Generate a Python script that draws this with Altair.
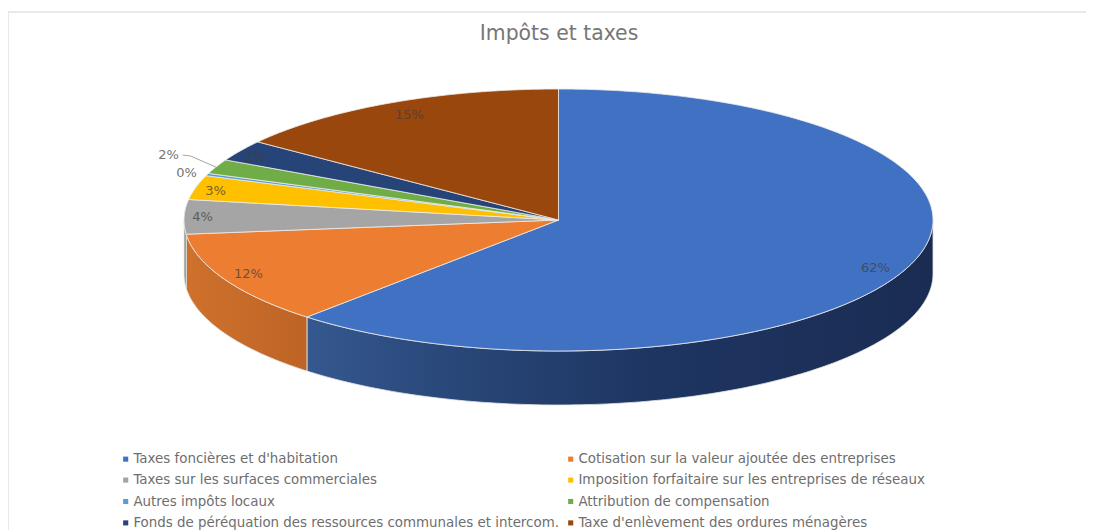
import math
import altair as alt

title_text = "Impôts et taxes"
categories = [
    "Taxes foncières et d'habitation",
    "Cotisation sur la valeur ajoutée des entreprises",
    "Taxes sur les surfaces commerciales",
    "Imposition forfaitaire sur les entreprises de réseaux",
    "Autres impôts locaux",
    "Attribution de compensation",
    "Fonds de péréquation des ressources communales et intercom.",
    "Taxe d'enlèvement des ordures ménagères",
]
shares = [62.0, 11.6, 4.25, 3.0, 0.3, 1.8, 2.6, 14.9]
labels = ["62%", "12%", "4%", "3%", "0%", "2%", "2%", "15%"]
colors = ["#4171c2", "#ed7d31", "#a5a5a5", "#ffc000", "#5b9bd5", "#70ad47", "#264478", "#9a470d"]

# layout (page pixels less the 8px margin)
W, H = 1078, 522
CX, CY = 550.5, 212
RX, RY = 374.5, 131
DEPTH = 54
label_dx = [317, -310, -356, -343, -372, -390, -303, -149]
label_dy = [48, 54, -3, -29, -47, -65, -63, -105]
side_fill = {
    0: [("#35588f", 0), ("#284677", 0.25), ("#1e3562", 0.55), ("#1a2c52", 1)],
    1: [("#cf712c", 0), ("#bd6426", 1)],
    2: [("#959595", 0), ("#8a8a8a", 1)],
}
proj = dict(type="identity", scale=1, translate=[CX, CY])

total = sum(shares)
angles = [0.0]
for s in shares:
    angles.append(angles[-1] + s / total * 360)


def rim(a, dy=0.0):
    r = math.radians(a)
    return [RX * math.sin(r), -RY * math.cos(r) + dy]


def sweep(a0, a1, dy=0.0):
    n = max(2, int(abs(a1 - a0)) + 2)
    return [rim(a0 + (a1 - a0) * i / (n - 1), dy) for i in range(n)]


def feature(coords, kind="Polygon", **props):
    return {"type": "Feature", "properties": props, "geometry": {"type": kind, "coordinates": coords}}


tops = []
for i, name in enumerate(categories):
    ring = [[0, 0]] + sweep(angles[i], angles[i + 1]) + [[0, 0]]
    tops.append(feature([ring], name=name))

layers = [
    alt.Chart(alt.Data(values=[{"a": 1}])).mark_rule(color="#e2e2e2", strokeWidth=1.5).encode(
        x=alt.value(0), x2=alt.value(W), y=alt.value(4)
    ),
    alt.Chart(alt.Data(values=[{"a": 1}])).mark_rule(color="#e2e2e2", strokeWidth=1.5).encode(
        x=alt.value(0), y=alt.value(4), y2=alt.value(H)
    ),
]

# visible outer walls of the slices lying in the lower half
for i, stops in side_fill.items():
    a0 = max(angles[i], 90)
    a1 = min(angles[i + 1], 270)
    ring = sweep(a0, a1) + sweep(a1, a0, DEPTH)
    ring.append(ring[0])
    grad = alt.LinearGradient(
        gradient="linear", x1=0, x2=1, y1=0, y2=0,
        stops=[alt.GradientStop(color=c, offset=o) for c, o in stops],
    )
    layers.append(
        alt.Chart(alt.Data(values=[feature([ring], name=categories[i])]))
        .mark_geoshape(fill=grad, stroke="#e4e4e4", strokeWidth=0.8)
        .project(**proj)
    )

layers.append(
    alt.Chart(alt.Data(values=tops))
    .mark_geoshape(stroke="#ececec", strokeWidth=0.8)
    .encode(
        color=alt.Color(
            "properties.name:N",
            scale=alt.Scale(domain=categories, range=colors),
            sort=None,
            legend=alt.Legend(
                title=None, orient="none", direction="horizontal", columns=2,
                legendX=111, legendY=444, symbolType="square", symbolSize=26,
                symbolStrokeWidth=0, labelFont="DejaVu Sans", labelFontSize=13.4,
                labelColor="#6e6e6e", labelLimit=600, labelOffset=1,
                columnPadding=5, rowPadding=6.4, padding=0, gridAlign="each",
            ),
        )
    )
    .project(**proj)
)

# leader line of the small "2%" label
leader = [rim(angles[5] + 3), [-368, -64], [-376, -65]]
layers.append(
    alt.Chart(alt.Data(values=[feature(leader, kind="LineString", name="leader")]))
    .mark_geoshape(filled=False, stroke="#a6a6a6", strokeWidth=1)
    .project(**proj)
)

label_rows = [
    {"text": t, "lon": x, "lat": y}
    for t, x, y in zip(labels, label_dx, label_dy)
]
layers.append(
    alt.Chart(alt.Data(values=label_rows))
    .mark_text(font="DejaVu Sans", fontSize=13, color="#404040", opacity=0.72)
    .encode(longitude="lon:Q", latitude="lat:Q", text="text:N")
    .project(**proj)
)

chart = (
    alt.layer(*layers)
    .properties(
        width=W,
        height=H,
        padding=0,
        autosize="none",
        title=alt.TitleParams(
            title_text, font="DejaVu Sans", fontSize=20.4, fontWeight="normal",
            color="#767676", anchor="middle", dx=12, dy=40,
        ),
    )
    .configure_view(stroke=None)
)

chart.save("out.html", embed_options={"renderer": "svg", "actions": False})
